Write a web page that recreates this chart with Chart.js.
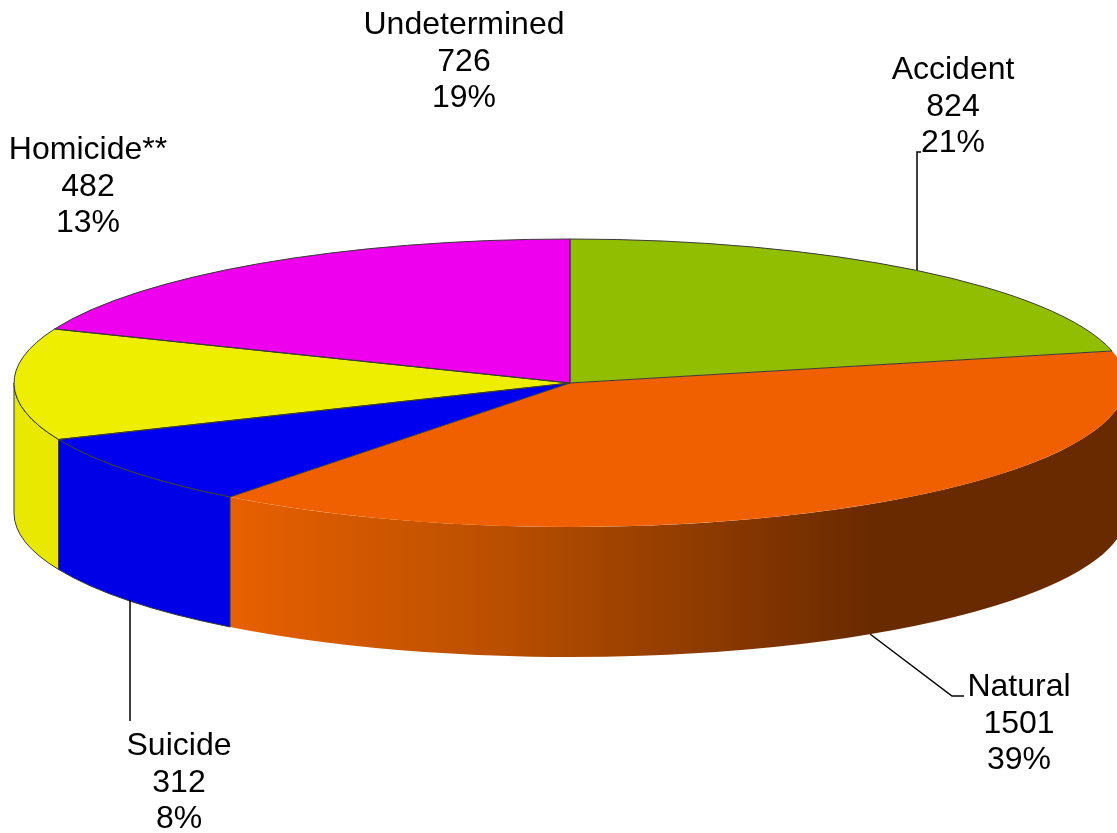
<!DOCTYPE html>
<html>
<head>
<meta charset="utf-8">
<style>
  html, body { margin: 0; padding: 0; background: #fff; }
  #wrap { width: 1117px; height: 833px; }
</style>
<script src="https://cdn.jsdelivr.net/npm/chart.js@4"></script>
</head>
<body>
<div id="wrap"><canvas id="pie" width="1117" height="833"></canvas></div>
<script>
const categories = ['Accident', 'Natural', 'Suicide', 'Homicide**', 'Undetermined'];
const counts = [824, 1501, 312, 482, 726];
const percents = ['21%', '39%', '8%', '13%', '19%'];
const colors = ['#92BE00', '#F06000', '#0000EE', '#EEEE00', '#EE00EE'];
const sideColors = ['#6E9000', '#F06000', '#0000E6', '#E8E800', '#B000B0'];

// label anchor (center x, first baseline y)
const labelPos = [[953, 79], [1019, 696], [179, 755], [88, 159], [464, 34]];

// leader lines
const leaders = [
  [[917, 270], [917, 152], [921, 152]],
  [[870, 634], [952, 696], [964, 696]],
  [[130, 600], [130, 721]]
];

const cx = 570, cy = 383, rx = 556, ry = 144, depth = 130;

const pie3d = {
  id: 'pie3d',
  beforeDatasetsDraw(chart) {
    const ctx = chart.ctx;
    const arcs = chart.getDatasetMeta(0).data;
    const R = arcs[0].outerRadius;

    // side wall first, only the front half shows
    arcs.forEach((a, i) => {
      const from = Math.max(a.startAngle, 0);
      const to = Math.min(a.endAngle, Math.PI);
      if (to <= from) return;
      const natural = categories[i] === 'Natural';
      ctx.beginPath();
      ctx.ellipse(cx, cy, rx, ry, 0, from, to);
      ctx.ellipse(cx, cy + depth, rx, ry, 0, to, from, true);
      ctx.closePath();
      if (natural) {
        const g = ctx.createLinearGradient(231, 0, 870, 0);
        g.addColorStop(0, '#E86000');
        g.addColorStop(0.4, '#BC5000');
        g.addColorStop(1, '#6A2A00');
        ctx.fillStyle = g;
      } else {
        ctx.fillStyle = sideColors[i];
      }
      ctx.fill();
      if (!natural) {
        ctx.strokeStyle = '#3a3a3a';
        ctx.lineWidth = 1;
        ctx.stroke();
      }
    });

    // squash the pie into the ellipse
    ctx.save();
    ctx.translate(cx, cy);
    ctx.scale(rx / R, ry / R);
    ctx.translate(-arcs[0].x, -arcs[0].y);
  },
  afterDatasetsDraw(chart) {
    const ctx = chart.ctx;
    ctx.restore();
    const arcs = chart.getDatasetMeta(0).data;

    // slice outlines, the orange rim has none in the original
    ctx.strokeStyle = '#3a3a3a';
    ctx.lineWidth = 1;
    arcs.forEach((a, i) => {
      if (categories[i] === 'Natural') return;
      ctx.beginPath();
      ctx.moveTo(cx, cy);
      ctx.ellipse(cx, cy, rx, ry, 0, a.startAngle, a.endAngle);
      ctx.closePath();
      ctx.stroke();
    });

    ctx.strokeStyle = '#000';
    ctx.lineWidth = 1.5;
    leaders.forEach(l => {
      ctx.beginPath();
      l.forEach((p, i) => i ? ctx.lineTo(p[0], p[1]) : ctx.moveTo(p[0], p[1]));
      ctx.stroke();
    });

    ctx.fillStyle = '#000';
    ctx.font = '32px "Liberation Sans", Arial, sans-serif';
    ctx.textAlign = 'center';
    ctx.textBaseline = 'alphabetic';
    categories.forEach((c, i) => {
      const [x, y] = labelPos[i];
      ctx.fillText(c, x, y);
      ctx.fillText(String(counts[i]), x, y + 36.5);
      ctx.fillText(percents[i], x, y + 73);
    });
  }
};

new Chart(document.getElementById('pie'), {
  type: 'pie',
  data: {
    labels: categories,
    datasets: [{ data: counts, backgroundColor: colors, borderWidth: 0 }]
  },
  options: {
    responsive: false,
    animation: false,
    plugins: { legend: { display: false }, tooltip: { enabled: false } }
  },
  plugins: [pie3d]
});
</script>
</body>
</html>
